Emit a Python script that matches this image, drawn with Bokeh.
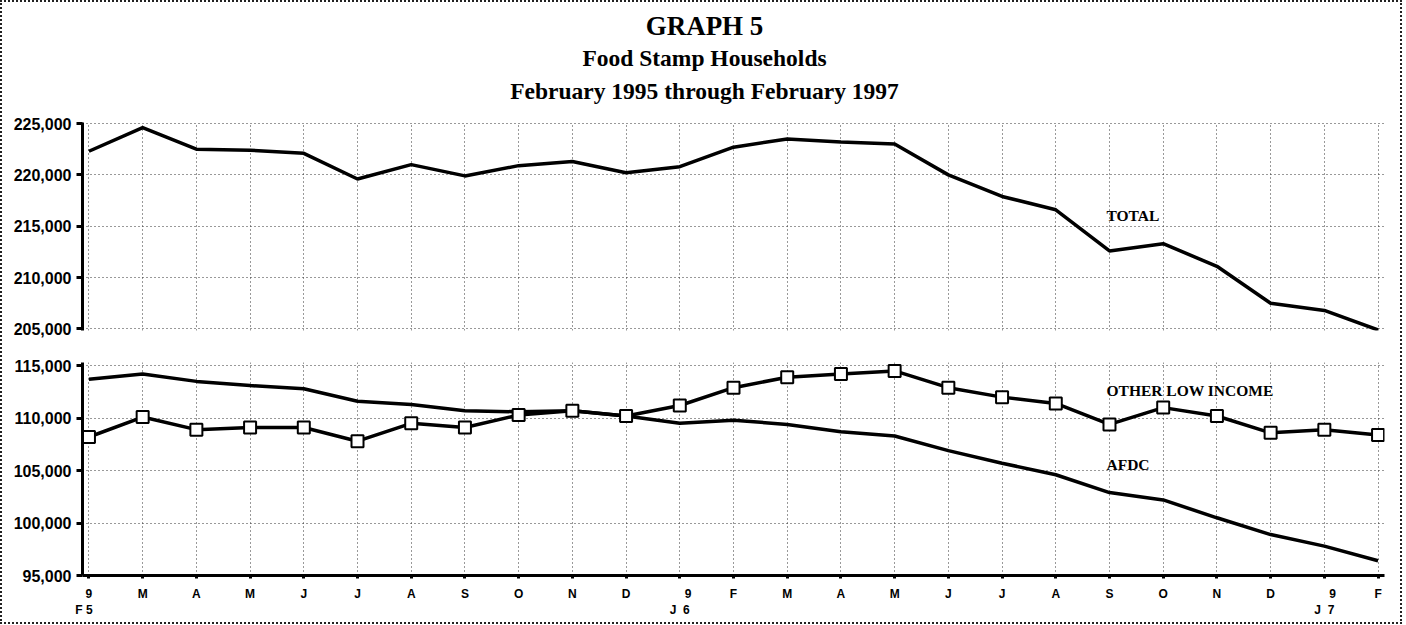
from bokeh.plotting import figure
from bokeh.layouts import column
from bokeh.models import Range1d, FixedTicker, NumeralTickFormatter, Label
from bokeh.core.properties import value
from bokeh.embed import file_html
from bokeh.resources import INLINE

# ---- data ----
months = ["F", "M", "A", "M", "J", "J", "A", "S", "O", "N", "D", "J",
          "F", "M", "A", "M", "J", "J", "A", "S", "O", "N", "D", "J", "F"]
year_idx = [0, 11, 23]
year_top = ["9", "9", "9"]
year_bot = ["5", "6", "7"]

total = [222300, 224600, 222500, 222400, 222100, 219600, 221000, 219900, 220900,
         221300, 220200, 220800, 222700, 223500, 223200, 223000, 220000, 217900,
         216600, 212600, 213300, 211100, 207500, 206800, 204900]
afdc = [113700, 114200, 113500, 113100, 112800, 111600, 111300, 110700, 110600,
        110700, 110200, 109500, 109800, 109400, 108700, 108300, 106900, 105700,
        104600, 102900, 102200, 100500, 98900, 97800, 96400]
other = [108200, 110100, 108900, 109100, 109100, 107800, 109500, 109100, 110300,
         110700, 110200, 111200, 112900, 113900, 114200, 114500, 112900, 112000,
         111400, 109400, 111000, 110200, 108600, 108900, 108400]

top_ticks = [205000, 210000, 215000, 220000, 225000]
bot_ticks = [95000, 100000, 105000, 110000, 115000]

titles = ["GRAPH 5", "Food Stamp Households",
          "February 1995 through February 1997"]

x = list(range(len(months)))

W = 1398
BL, BR = 80, 16
SERIF = "Liberation Serif"
SANS = "Liberation Sans"
NB = "\u00a0"

# ---- title strip (frame aligned with the panels below) ----
TH = 112
head = figure(width=W, height=TH, x_range=Range1d(BL, W - BR),
              y_range=Range1d(TH, 0), output_backend="svg",
              toolbar_location=None, x_axis_location=None,
              y_axis_location=None, min_border=0, min_border_left=BL,
              min_border_right=BR, min_border_top=0, min_border_bottom=0)
head.title.visible = False
head.outline_line_color = None
head.xgrid.visible = False
head.ygrid.visible = False
for txt, ty, fs in zip(titles, [23, 55, 88], ["27px", "23.5px", "23.5px"]):
    head.text(x=[702], y=[ty], text=[txt], text_align="center",
              text_baseline="middle", text_font=value(SERIF),
              text_font_size=fs, text_font_style="bold", text_color="black")


def style_common(p, ticks):
    p.outline_line_color = None
    p.background_fill_color = "white"
    p.border_fill_color = "white"
    p.title.visible = False
    ax = p.yaxis[0]
    ax.ticker = FixedTicker(ticks=ticks)
    ax.formatter = NumeralTickFormatter(format="0,0")
    ax.axis_line_width = 3
    ax.axis_line_color = "black"
    ax.major_tick_line_width = 3
    ax.major_tick_out = 6
    ax.major_tick_in = 0
    ax.minor_tick_out = 0
    ax.minor_tick_in = 0
    ax.major_label_standoff = 5
    ax.major_label_text_font = SANS
    ax.major_label_text_font_size = "16px"
    ax.major_label_text_font_style = "bold"
    ax.major_label_text_color = "black"
    p.ygrid.ticker = FixedTicker(ticks=ticks)
    p.xgrid.ticker = FixedTicker(ticks=x)
    for g in (p.xgrid[0], p.ygrid[0]):
        g.grid_line_color = "#333"
        g.grid_line_dash = "1 3"
        g.grid_line_width = 1


# ---- top panel ----
top = figure(width=W, height=231, x_range=Range1d(-0.12, 24.12),
             y_range=Range1d(204850, 225100), output_backend="svg",
             toolbar_location=None, min_border_left=BL, min_border_right=BR,
             min_border_top=8, min_border_bottom=15)
style_common(top, top_ticks)
top.xaxis.visible = False

top.line(x, total, line_width=3.5, line_color="black")
top.add_layout(Label(x=19, y=216000, text="TOTAL", x_offset=-3,
                     text_baseline="middle", text_font=SERIF, text_color="black",
                     text_font_size="15.5px", text_font_style="bold"))

# ---- bottom panel ----
bot = figure(width=W, height=277, x_range=top.x_range,
             y_range=Range1d(95000, 115300), output_backend="svg",
             toolbar_location=None, min_border_left=BL, min_border_right=BR,
             min_border_top=17, min_border_bottom=47)
style_common(bot, bot_ticks)
xa = bot.xaxis[0]
xa.ticker = FixedTicker(ticks=x)
overrides = {i: m for i, m in zip(x, months)}
for i, t, b in zip(year_idx, year_top, year_bot):
    if i == 0:
        overrides[i] = t + "\n" + months[i] + NB + b + NB * 3
    else:
        overrides[i] = NB * 5 + t + "\n" + months[i] + NB * 2 + b
xa.major_label_overrides = overrides
xa.axis_line_width = 3
xa.axis_line_color = "black"
xa.major_tick_line_width = 3
xa.major_tick_out = 3
xa.major_tick_in = 0
xa.minor_tick_out = 0
xa.minor_tick_in = 0
xa.major_label_standoff = 8
xa.major_label_text_font = SANS
xa.major_label_text_font_size = "12px"
xa.major_label_text_font_style = "bold"
xa.major_label_text_color = "black"

bot.line(x, afdc, line_width=3.5, line_color="black")
bot.line(x, other, line_width=3.5, line_color="black")
bot.scatter(x, other, marker="square", size=12, fill_color="white",
            line_color="black", line_width=2)

for txt, yv in (("OTHER LOW INCOME", 112650), ("AFDC", 105550)):
    bot.add_layout(Label(x=19, y=yv, text=txt, x_offset=-3,
                         text_baseline="middle", text_font=SERIF,
                         text_color="black", text_font_size="15.5px",
                         text_font_style="bold"))

layout = column(head, top, bot, styles={"border": "2px dotted #222"})

open("out.html", "w").write(file_html(layout, INLINE))
